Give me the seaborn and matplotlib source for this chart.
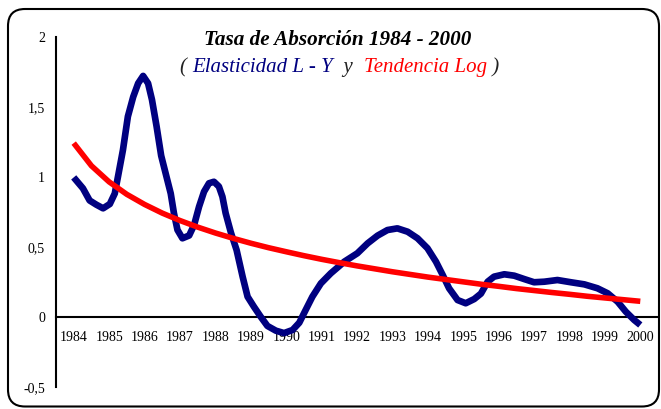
import numpy as np
import pandas as pd
import matplotlib
matplotlib.use("Agg")
import matplotlib.pyplot as plt
import seaborn as sns
from matplotlib.patches import FancyBboxPatch

# ---------------- data ----------------
years = [str(y) for y in range(1984, 2001)]

# positions in years after 1984 (0 = 1984 ... 16 = 2000)
elasticity_x = [
    0.00, 0.26, 0.45, 0.64, 0.83, 1.02, 1.16, 1.25, 1.39, 1.53,
    1.68, 1.82, 1.96, 2.10, 2.21, 2.34, 2.47, 2.62, 2.74, 2.83,
    2.93, 3.07, 3.26, 3.40, 3.54, 3.68, 3.82, 3.96, 4.10, 4.20,
    4.29, 4.44, 4.60, 4.77, 4.91, 5.09, 5.28, 5.47, 5.71, 5.94,
    6.18, 6.37, 6.55, 6.74, 6.98, 7.26, 7.50, 7.64, 8.01, 8.30,
    8.58, 8.86, 9.14, 9.43, 9.71, 9.99, 10.23, 10.42, 10.60, 10.84,
    11.07, 11.31, 11.50, 11.69, 11.87, 12.16, 12.44, 12.72, 13.00, 13.29,
    13.66, 14.04, 14.42, 14.79, 15.08, 15.36, 15.59, 15.83, 16.00,
]
elasticity = [
    0.995, 0.917, 0.83, 0.80, 0.774, 0.805, 0.88, 1.00, 1.19, 1.43,
    1.57, 1.667, 1.72, 1.667, 1.55, 1.36, 1.15, 1.00, 0.88, 0.74,
    0.62, 0.56, 0.58, 0.655, 0.786, 0.893, 0.953, 0.964, 0.93, 0.857,
    0.74, 0.60, 0.476, 0.286, 0.143, 0.071, 0.00, -0.066, -0.10, -0.117,
    -0.095, -0.043, 0.048, 0.143, 0.238, 0.31, 0.362, 0.393, 0.453, 0.524,
    0.579, 0.619, 0.631, 0.607, 0.56, 0.489, 0.393, 0.298, 0.203, 0.119,
    0.096, 0.126, 0.165, 0.25, 0.286, 0.303, 0.293, 0.269, 0.246, 0.25,
    0.262, 0.246, 0.231, 0.203, 0.167, 0.107, 0.036, -0.024, -0.059,
]

# half-year positions for the log trend
trend_x = [i / 2 for i in range(33)]
trend = [
    1.24, 1.078, 0.963, 0.874, 0.802, 0.740, 0.687, 0.640,
    0.598, 0.560, 0.525, 0.493, 0.464, 0.436, 0.410, 0.386,
    0.363, 0.342, 0.321, 0.302, 0.283, 0.266, 0.249, 0.232,
    0.217, 0.201, 0.187, 0.173, 0.160, 0.146, 0.134, 0.122,
    0.110,
]

y_ticks = [-0.5, 0, 0.5, 1, 1.5, 2]
y_ticklabels = ["-0,5", "0", "0,5", "1", "1,5", "2"]

title = "Tasa de Absorción 1984 - 2000"
subtitle_parts = [("( ", "#222222"), ("Elasticidad L - Y", "#000080"),
                  ("  y  ", "#222222"), ("Tendencia Log", "#ff0000"),
                  (" )", "#222222")]

# ---------------- figure ----------------
sns.set_style("white")
plt.rcParams["font.family"] = ["Liberation Serif", "DejaVu Serif"]

W, H = 661, 409
fig = plt.figure(figsize=(W / 100, H / 100), dpi=100)
fig.patch.set_facecolor("white")

ax_left, ax_right = 56, 658
ax_top, ax_bottom = 36.7, 386.7
ax = fig.add_axes([ax_left / W, 1 - ax_bottom / H,
                   (ax_right - ax_left) / W, (ax_bottom - ax_top) / H])
ax.set_facecolor("none")

df_e = pd.DataFrame({"x": elasticity_x, "y": elasticity})
df_t = pd.DataFrame({"x": trend_x, "y": trend})

sns.lineplot(data=df_e, x="x", y="y", ax=ax, color="#000080", linewidth=4.8,
             solid_capstyle="butt", solid_joinstyle="round", zorder=3,
             legend=False, sort=False)
sns.lineplot(data=df_t, x="x", y="y", ax=ax, color="#ff0000", linewidth=4.0,
             solid_capstyle="butt", zorder=4, legend=False)

ax.set_xlim(-0.5, 16.5)
ax.set_ylim(-0.5, 2)
ax.set_xlabel("")
ax.set_ylabel("")

for s in ["top", "right"]:
    ax.spines[s].set_visible(False)
ax.spines["bottom"].set_position(("data", 0))
for s in ["left", "bottom"]:
    ax.spines[s].set_linewidth(1.5)
    ax.spines[s].set_color("black")

ax.set_yticks(y_ticks)
ax.set_yticklabels(y_ticklabels)
ax.tick_params(axis="y", direction="out", length=4.3, width=1.5, pad=3.6,
               labelsize=10, colors="black")

ax.set_xticks(np.arange(-0.5, 17, 1.0))
ax.set_xticklabels([])
ax.set_xticks(range(len(years)), minor=True)
ax.set_xticklabels(years, minor=True)
ax.tick_params(axis="x", which="major", direction="out", length=4.3,
               width=1.5, colors="black")
ax.tick_params(axis="x", which="minor", length=0, pad=10, labelsize=10,
               labelcolor="black")

# rounded frame
frame = FancyBboxPatch((8 / 100, (H - 406.5) / 100), 651 / 100, 397.5 / 100,
                       boxstyle="round,pad=0,rounding_size=0.17",
                       transform=fig.dpi_scale_trans, fill=False,
                       edgecolor="black", linewidth=1.5, zorder=10)
fig.patches.append(frame)

# title
fig.text(338 / W, 1 - 44.7 / H, title, ha="center", va="baseline",
         fontsize=15.2, fontweight="bold", fontstyle="italic", color="black")

# multi-coloured subtitle
fig.canvas.draw()
renderer = fig.canvas.get_renderer()
pieces = []
for txt, col in subtitle_parts:
    t = fig.text(0, 1 - 72 / H, txt, ha="left", va="baseline", fontsize=15,
                 fontstyle="italic", color=col)
    pieces.append(t)
widths = [p.get_window_extent(renderer).width for p in pieces]
start = 339.7 - sum(widths) / 2
for p, w in zip(pieces, widths):
    p.set_x(start / W)
    start += w

fig.savefig("out.png", dpi=100, facecolor="white")
